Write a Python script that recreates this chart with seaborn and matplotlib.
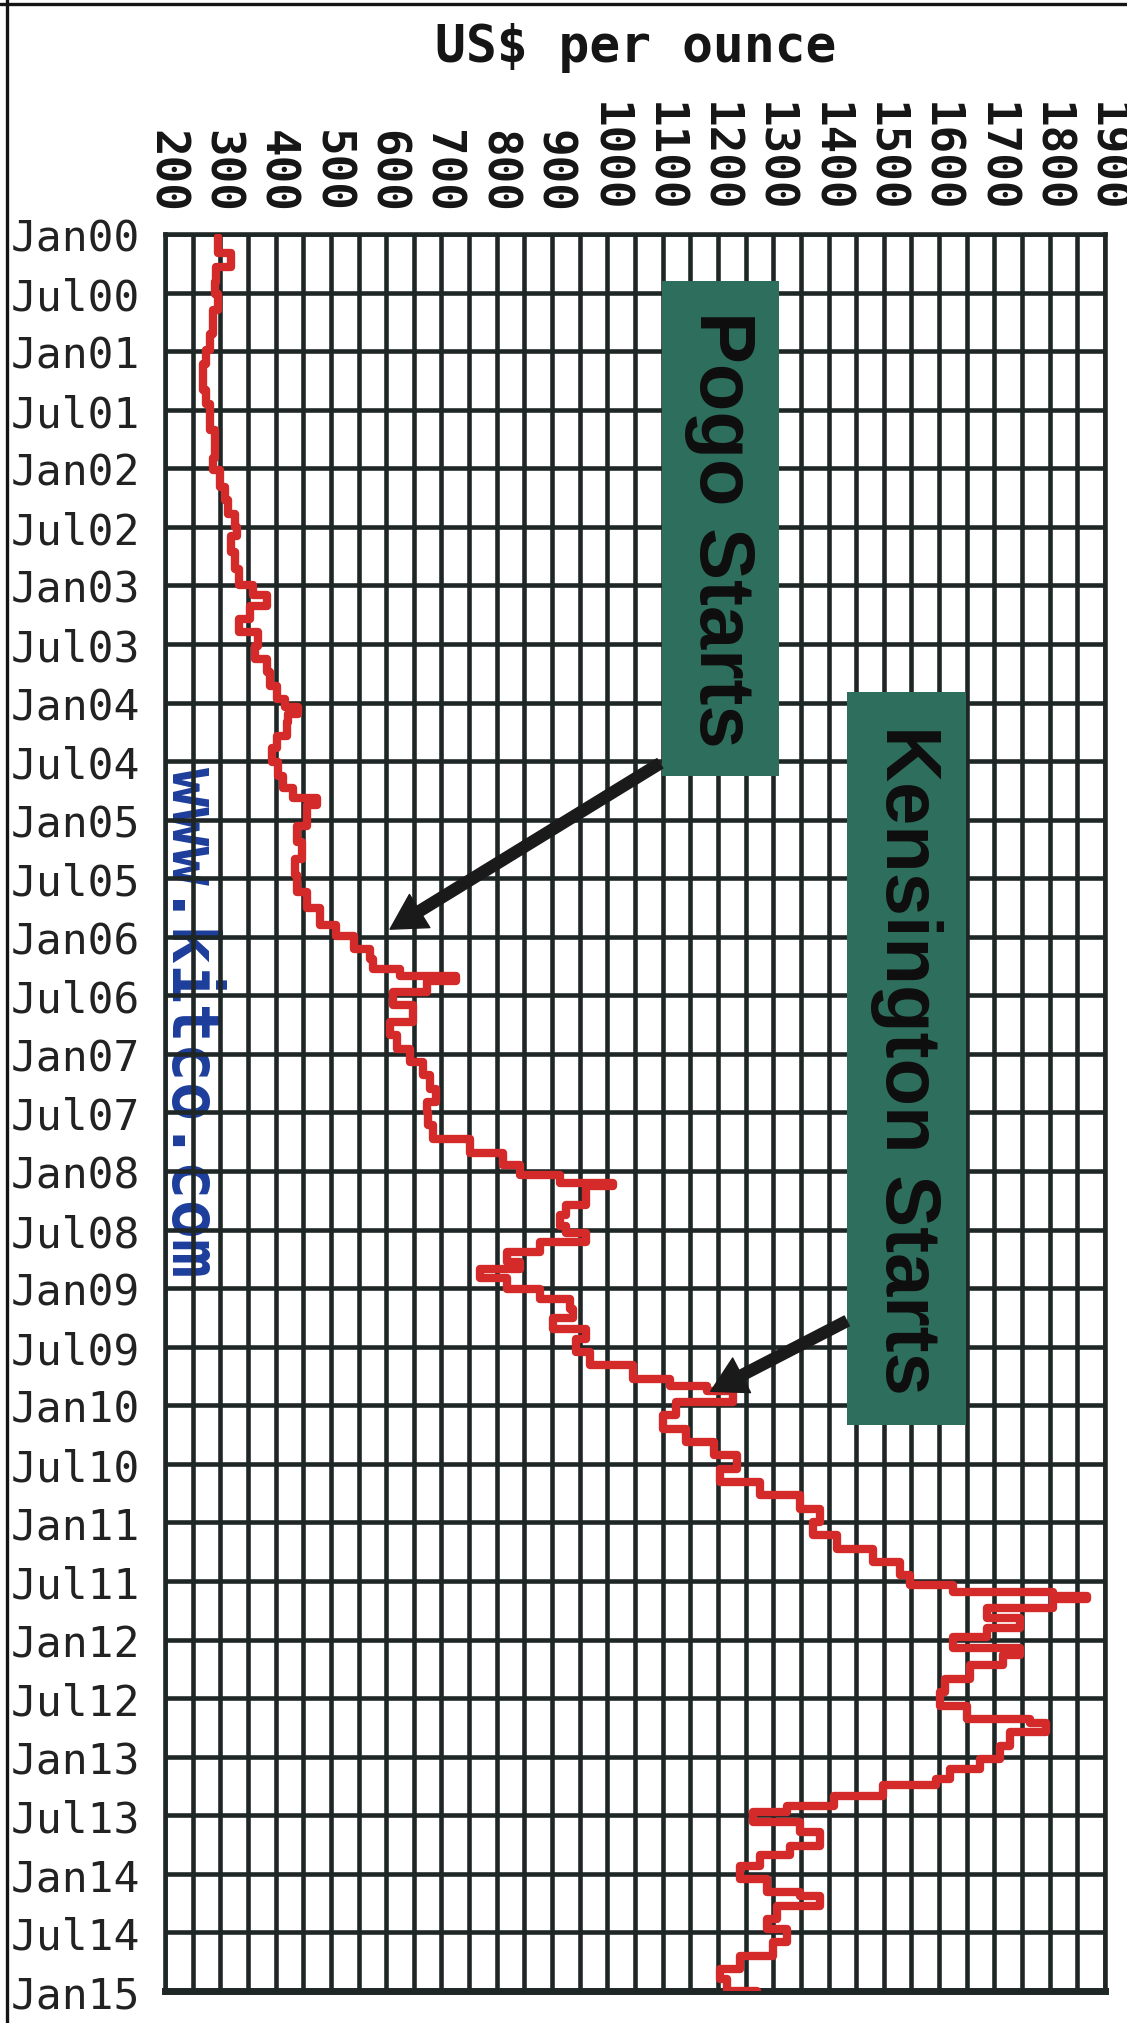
import matplotlib
matplotlib.use("Agg")
import matplotlib.pyplot as plt
from matplotlib.lines import Line2D
from matplotlib.patches import Rectangle
import pandas as pd
import seaborn as sns

GRID = "#1f2626"
RED = "#d42a2a"
TEAL = "#2e6e5c"
BLUE = "#1d3d9c"
INK = "#151515"

# gold price: months since Jan 2000 -> US$ per ounce
month_idx = [0.3, 1.9, 3.4, 4.9, 6.1, 7.8, 10.2, 11.9, 13.3, 14.7, 16.0, 17.4, 18.8,
             20.1, 21.5, 22.9, 24.2, 25.9, 27.3, 28.7, 30.0, 30.9, 32.6, 34.3, 36.0,
             37.0, 38.1, 39.4, 40.8, 42.2, 43.5, 44.9, 46.3, 47.6, 48.5, 49.2, 50.0,
             51.4, 52.7, 54.1, 55.5, 56.8, 57.8, 58.5, 60.6, 62.3, 64.0, 65.7, 67.4,
             69.1, 70.8, 71.9, 73.2, 74.3, 75.3, 76.0, 76.5, 77.7, 79.0, 80.7, 82.1,
             83.5, 84.8, 86.2, 87.6, 88.9, 90.0, 91.3, 92.7, 94.1, 95.4, 96.4, 97.2,
             97.5, 98.5, 99.5, 100.5, 101.6, 102.3, 103.3, 104.3, 105.3, 106.0, 107.0,
             108.1, 109.1, 110.1, 111.1, 112.2, 113.2, 114.5, 115.9, 117.3, 118.0,
             118.5, 119.7, 121.0, 122.4, 123.8, 125.1, 126.5, 127.9, 129.2, 130.6,
             132.0, 133.3, 134.7, 136.1, 137.4, 138.4, 139.1, 139.5, 139.8, 140.8,
             141.8, 142.8, 143.7, 144.9, 145.6, 146.6, 148.0, 149.4, 150.8, 152.1,
             152.5, 153.5, 154.9, 156.2, 157.3, 158.3, 158.9, 160.0, 161.0, 161.7,
             162.7, 163.7, 165.1, 166.1, 167.2, 168.5, 169.9, 170.3, 171.3, 172.6,
             173.6, 175.0, 176.4, 177.7, 178.8, 180.0]
price_usd = [296, 320, 293, 290, 296, 287, 281, 275, 269, 269, 275, 281, 281,
             290, 290, 287, 299, 308, 314, 327, 330, 320, 327, 333, 360,
             384, 354, 333, 369, 363, 384, 390, 402, 417, 441, 423, 420,
             402, 393, 405, 414, 432, 474, 456, 438, 447, 435, 438, 456,
             480, 510, 541, 571, 577, 625, 727, 673, 613, 649, 607, 619,
             643, 667, 679, 691, 673, 676, 685, 751, 812, 842, 914, 1011,
             962, 962, 926, 914, 926, 962, 878, 818, 842, 770, 818,
             878, 932, 938, 902, 962, 944, 969, 1047, 1113, 1180,
             1228, 1125, 1101, 1143, 1192, 1234, 1204, 1276, 1348, 1384,
             1372, 1415, 1481, 1529, 1547, 1626, 1806, 1867, 1806, 1686,
             1746, 1686, 1626, 1746, 1716, 1656, 1610, 1601, 1650, 1764,
             1794, 1728, 1710, 1674, 1619, 1595, 1499, 1409, 1324, 1264,
             1348, 1384, 1330, 1276, 1240, 1288, 1348, 1384, 1306, 1288,
             1324, 1300, 1240, 1204, 1216, 1270]

price_ticks = [200, 300, 400, 500, 600, 700, 800, 900, 1000, 1100, 1200, 1300,
               1400, 1500, 1600, 1700, 1800, 1900]
date_ticks = [2000.0, 2000.5, 2001.0, 2001.5, 2002.0, 2002.5, 2003.0, 2003.5,
              2004.0, 2004.5, 2005.0, 2005.5, 2006.0, 2006.5, 2007.0, 2007.5,
              2008.0, 2008.5, 2009.0, 2009.5, 2010.0, 2010.5, 2011.0, 2011.5,
              2012.0, 2012.5, 2013.0, 2013.5, 2014.0, 2014.5, 2015.0]
date_labels = ["Jan00", "Jul00", "Jan01", "Jul01", "Jan02", "Jul02", "Jan03", "Jul03",
               "Jan04", "Jul04", "Jan05", "Jul05", "Jan06", "Jul06", "Jan07", "Jul07",
               "Jan08", "Jul08", "Jan09", "Jul09", "Jan10", "Jul10", "Jan11", "Jul11",
               "Jan12", "Jul12", "Jan13", "Jul13", "Jan14", "Jul14", "Jan15"]

df = pd.DataFrame({"price": price_usd, "month": month_idx})
df["date"] = 2000 + df["month"] / 12.0

sns.set_style("white")
plt.rcParams["font.family"] = ["DejaVu Sans Mono", "DejaVu Sans"]

fig = plt.figure(figsize=(11.27, 20.24), dpi=100)
ax = fig.add_axes([165 / 1127, 1 - 1992 / 2024, (1105 - 165) / 1127, (1992 - 235) / 2024])

# watermark sits under the grid
ax.text(246, 2006.72, "www.kitco.com", rotation=270, ha="center", va="center",
        fontsize=47, fontweight="bold", color=BLUE, zorder=0.5)

sns.lineplot(data=df, x="price", y="date", sort=False, estimator=None,
             drawstyle="steps-pre", color=RED, linewidth=6, ax=ax, zorder=3)

ax.set_xlim(200, 1900)
ax.set_ylim(2015, 2000)
ax.set_xlabel("")
ax.set_ylabel("")

ax.xaxis.tick_top()
ax.set_xticks(price_ticks)
ax.set_xticks(range(250, 1900, 100), minor=True)
ax.set_yticks(date_ticks)
ax.set_yticklabels(date_labels)
ax.tick_params(axis="x", which="both", length=0, pad=16, labelsize=33,
               labelrotation=270, labelcolor=INK)
ax.tick_params(axis="y", length=0, pad=18, labelsize=31, labelcolor="#222222")
for lbl in ax.get_xticklabels():
    lbl.set_fontweight("bold")

ax.set_axisbelow(False)
ax.grid(axis="x", which="both", color=GRID, linewidth=3.3, zorder=2)
ax.grid(axis="y", which="major", color=GRID, linewidth=3.3, zorder=2)
for side, spine in ax.spines.items():
    spine.set_color(GRID)
    spine.set_linewidth(3.3)
    spine.set_zorder(2.5)
ax.spines["bottom"].set_linewidth(5)

fig.text(636 / 1127, 1 - 48 / 2024, "US$ per ounce", ha="center", va="center",
         fontsize=37, fontweight="bold", color=INK)

# annotation boxes
boxes = [
    (1099, 2000.40, 1310, 2004.63, "Pogo Starts"),
    (1433, 2003.91, 1648, 2010.17, "Kensington Starts"),
]
for x0, y0, x1, y1, label in boxes:
    ax.add_patch(Rectangle((x0, y0), x1 - x0, y1 - y0, facecolor=TEAL,
                           edgecolor="none", zorder=4))
    ax.text((x0 + x1) / 2, (y0 + y1) / 2, label, rotation=270, ha="center",
            va="center", fontsize=56, fontweight="bold", color="#0e0e0e",
            family="Liberation Sans", zorder=5)

arrow_style = "simple,head_width=1.4,head_length=1.25,tail_width=0.4"
ax.annotate("", xy=(607, 2005.935), xytext=(1095, 2004.52),
            arrowprops=dict(arrowstyle=arrow_style, mutation_scale=20, color="#1a1a1a",
                            shrinkA=0, shrinkB=0), zorder=6)
ax.annotate("", xy=(1187, 2009.88), xytext=(1433, 2009.28),
            arrowprops=dict(arrowstyle=arrow_style, mutation_scale=20, color="#1a1a1a",
                            shrinkA=0, shrinkB=0), zorder=6)

# scanned page frame on the top and left edges
fig.add_artist(Line2D([0, 1], [1 - 5 / 2024] * 2, transform=fig.transFigure,
                      color=INK, linewidth=2.4))
fig.add_artist(Line2D([7 / 1127] * 2, [0, 1], transform=fig.transFigure,
                      color=INK, linewidth=2.4))

fig.savefig("out.png", dpi=100, facecolor="white")
